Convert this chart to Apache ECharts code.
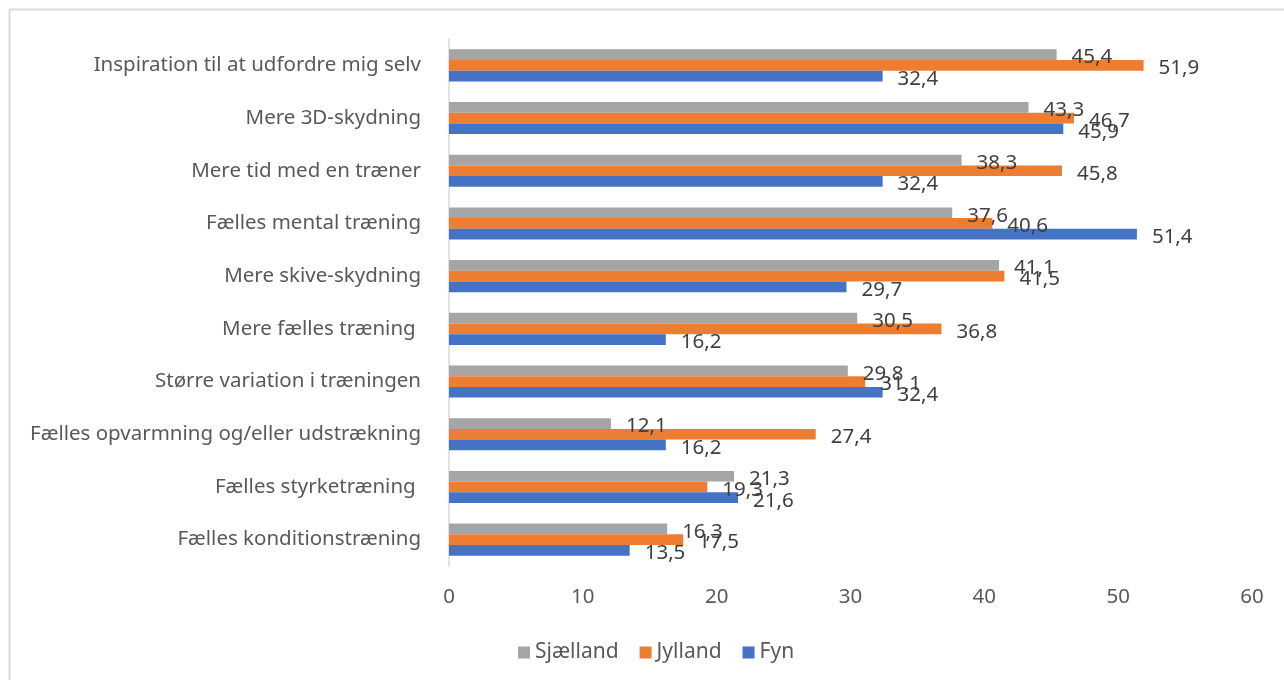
<!DOCTYPE html>
<html>
<head>
<meta charset="utf-8">
<script src="https://cdn.jsdelivr.net/npm/echarts@6/dist/echarts.min.js"></script>
<style>
html,body{margin:0;padding:0;background:#fff;}
#c{width:1284px;height:680px;}
</style>
</head>
<body>
<div id="c"></div>
<script>
const categories = [
  "Inspiration til at udfordre mig selv",
  "Mere 3D-skydning",
  "Mere tid med en træner",
  "Fælles mental træning",
  "Mere skive-skydning",
  "Mere fælles træning ",
  "Større variation i træningen",
  "Fælles opvarmning og/eller udstrækning",
  "Fælles styrketræning ",
  "Fælles konditionstræning"
];
const sjaelland = [45.4, 43.3, 38.3, 37.6, 41.1, 30.5, 29.8, 12.1, 21.3, 16.3];
const jylland   = [51.9, 46.7, 45.8, 40.6, 41.5, 36.8, 31.1, 27.4, 19.3, 17.5];
const fyn       = [32.4, 45.9, 32.4, 51.4, 29.7, 16.2, 32.4, 16.2, 21.6, 13.5];
const seriesNames = ["Sjælland", "Jylland", "Fyn"];
const xTicks = {min: 0, max: 60, interval: 10};

const colors = ["#a5a5a5", "#ed7d31", "#4472c4"];
const font = "'Noto Sans', 'Open Sans', sans-serif";
const chart = echarts.init(document.getElementById('c'));

function mk(name, data, color) {
  return {
    name: name, type: 'bar', data: data,
    barGap: '0%', barCategoryGap: '39%',
    itemStyle: {color: color},
    label: {
      show: true, position: 'right', distance: 15, offset: [0, 3],
      color: '#404040', fontSize: 20.5, fontFamily: font,
      formatter: p => String(p.value).replace('.', ',')
    }
  };
}

chart.setOption({
  animation: false,
  textStyle: {fontFamily: font},
  graphic: [
    {type: 'line', shape: {x1: 9.5, y1: 9.5, x2: 1284, y2: 9.5}, style: {stroke: '#d9d9d9', lineWidth: 2}},
    {type: 'line', shape: {x1: 9.5, y1: 9.5, x2: 9.5, y2: 680}, style: {stroke: '#d9d9d9', lineWidth: 2}}
  ],
  grid: {left: 449, right: 32, top: 39, bottom: 114, containLabel: false},
  legend: {
    data: seriesNames, top: 637, left: 513,
    itemWidth: 12, itemHeight: 12, itemGap: 21,
    icon: 'rect',
    textStyle: {color: '#595959', fontSize: 21, fontFamily: font}
  },
  xAxis: {
    type: 'value', min: xTicks.min, max: xTicks.max, interval: xTicks.interval,
    axisLine: {show: false}, axisTick: {show: false}, splitLine: {show: false},
    axisLabel: {color: '#595959', fontSize: 20.5, margin: 21, fontFamily: font}
  },
  yAxis: {
    type: 'category', data: categories, inverse: true,
    axisLine: {show: true, lineStyle: {color: '#d9d9d9', width: 1.5}},
    axisTick: {show: false},
    axisLabel: {color: '#595959', fontSize: 20.5, margin: 28, fontFamily: font}
  },
  series: [
    mk(seriesNames[0], sjaelland, colors[0]),
    mk(seriesNames[1], jylland, colors[1]),
    mk(seriesNames[2], fyn, colors[2])
  ]
});
</script>
</body>
</html>
